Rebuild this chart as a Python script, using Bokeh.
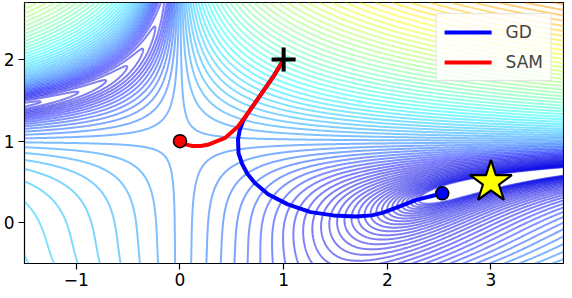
import numpy as np
from bokeh.plotting import figure
from bokeh.models import Legend, LegendItem, FixedTicker
from bokeh.embed import file_html
from bokeh.resources import INLINE

# ---- data ----
X_RANGE = (-1.5, 3.7)
Y_RANGE = (-0.5, 2.7)
X_TICKS = [-1, 0, 1, 2, 3]
X_TICK_LABELS = {-1: "\u22121", 0: "0", 1: "1", 2: "2", 3: "3"}
Y_TICKS = [0, 1, 2]

# contour levels (log-spaced exponents)
LEVEL_EXP_START = -0.742
LEVEL_EXP_STEP = 0.066
N_LEVELS = 88
# colour scale (log10 values mapped onto the jet colormap)
COLOR_LOG_MIN = -0.1
COLOR_LOG_MAX = 5.1
COLOR_T_FLOOR = 0.1

# optimiser trajectories
gd_x = [1.0, 0.91, 0.78, 0.67, 0.61, 0.575, 0.56, 0.565, 0.6, 0.65, 0.72, 0.85,
        1.04, 1.26, 1.48, 1.7, 1.85, 1.96, 2.12, 2.28, 2.44, 2.53]
gd_y = [2.0, 1.81, 1.57, 1.37, 1.25, 1.13, 1.02, 0.85, 0.72, 0.6, 0.49, 0.35,
        0.225, 0.13, 0.09, 0.076, 0.09, 0.124, 0.2, 0.28, 0.33, 0.36]
sam_x = [1.0, 0.91, 0.78, 0.67, 0.56, 0.435, 0.28, 0.2, 0.12, 0.05, 0.0]
sam_y = [2.0, 1.81, 1.57, 1.37, 1.18, 1.04, 0.96, 0.94, 0.94, 0.96, 1.0]
start_pt = ([1.0], [2.0])
gd_end = ([2.53], [0.36])
sam_end = ([0.0], [1.0])
minimum_pt = ([3.0], [0.5])

# ---- Beale function surface ----
gx = np.linspace(X_RANGE[0], X_RANGE[1], 521)
gy = np.linspace(Y_RANGE[0], Y_RANGE[1], 321)
XX, YY = np.meshgrid(gx, gy)
Z = ((1.5 - XX + XX * YY) ** 2 + (2.25 - XX + XX * YY ** 2) ** 2
     + (2.625 - XX + XX * YY ** 3) ** 2)

levels = 10 ** (LEVEL_EXP_START + LEVEL_EXP_STEP * np.arange(N_LEVELS))


def jet(t):
    r = np.clip(np.minimum(4 * t - 1.5, -4 * t + 4.5), 0, 1)
    g = np.clip(np.minimum(4 * t - 0.5, -4 * t + 3.5), 0, 1)
    b = np.clip(np.minimum(4 * t + 0.5, -4 * t + 2.5), 0, 1)
    return "#%02x%02x%02x" % (int(r * 255), int(g * 255), int(b * 255))


lg = np.log10(levels)
tnorm = np.clip((lg - COLOR_LOG_MIN) / (COLOR_LOG_MAX - COLOR_LOG_MIN),
                COLOR_T_FLOOR, 1)
level_colors = [jet(t) for t in tnorm]

FONT = "DejaVu Sans"

p = figure(width=564, height=288, x_range=X_RANGE, y_range=Y_RANGE,
           output_backend="svg", toolbar_location=None,
           min_border_left=23, min_border_right=1, min_border_top=2,
           min_border_bottom=0)
p.grid.visible = False
p.outline_line_color = "black"
p.outline_line_width = 1.2
p.background_fill_color = "white"

p.contour(gx, gy, Z, levels, line_color=level_colors, line_width=2.0,
          line_alpha=0.5)

r_gd = p.line(gd_x, gd_y, line_color="#0000ff", line_width=4,
              line_join="round", line_cap="round")
r_sam = p.line(sam_x, sam_y, line_color="#ff0000", line_width=4,
               line_join="round", line_cap="round")

p.scatter(*start_pt, marker="cross", size=24, line_width=4, line_color="black")
p.scatter(*sam_end, marker="circle", size=13, fill_color="#ff0000",
          line_color="black", line_width=1.5)
p.scatter(*gd_end, marker="circle", size=13, fill_color="#0000ff",
          line_color="black", line_width=1.5)
p.scatter(*minimum_pt, marker="star", size=44, fill_color="#ffff00",
          line_color="black", line_width=2.2)

for ax in (p.xaxis[0], p.yaxis[0]):
    ax.major_label_text_font = FONT
    ax.major_label_text_font_size = "17px"
    ax.major_label_text_color = "black"
    ax.axis_line_color = None
    ax.major_tick_out = 6
    ax.major_tick_in = 0
    ax.minor_tick_line_color = None
    ax.major_tick_line_color = "black"
    ax.major_tick_line_width = 1.2

p.xaxis[0].ticker = FixedTicker(ticks=X_TICKS)
p.xaxis[0].major_label_overrides = X_TICK_LABELS
p.xaxis[0].major_label_standoff = 3
p.yaxis[0].ticker = FixedTicker(ticks=Y_TICKS)
p.yaxis[0].major_label_standoff = 4

legend = Legend(items=[LegendItem(label="GD", renderers=[r_gd]),
                       LegendItem(label="SAM", renderers=[r_sam])],
                location="top_right")
legend.label_text_font = FONT
legend.label_text_font_size = "17px"
legend.glyph_width = 47
legend.glyph_height = 20
legend.label_height = 20
legend.spacing = 10
legend.padding = 8
legend.label_standoff = 14
legend.margin = 11
legend.border_line_color = "#cccccc"
legend.border_line_width = 1
legend.background_fill_color = "white"
legend.background_fill_alpha = 0.8
p.add_layout(legend)

open("out.html", "w").write(file_html(p, INLINE))
